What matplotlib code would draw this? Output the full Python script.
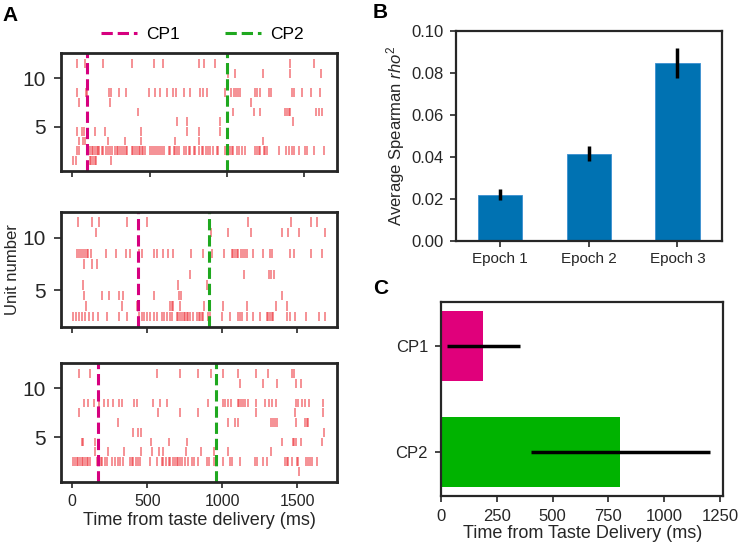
import matplotlib
matplotlib.use("Agg")
import matplotlib.pyplot as plt

plt.rcParams['font.family'] = ['Liberation Sans', 'DejaVu Sans']
plt.rcParams['mathtext.fontset'] = 'custom'
plt.rcParams['mathtext.rm'] = 'Liberation Sans'
plt.rcParams['mathtext.it'] = 'Liberation Sans:italic'

INK = '#262626'
MAGENTA = '#d6007f'
GREEN = '#1fa81f'

# spike times (ms) per unit 1..11 for the three example trials
trial1_spikes = [
    [6, 26, 112, 123, 134, 145, 156, 250],
    [28, 43, 115, 126, 136, 147, 158, 165, 175, 190, 201, 219, 234, 245, 255, 277, 288, 299,
     310, 323, 335, 346, 357, 385, 396, 407, 418, 429, 439, 450, 461, 472, 500, 515, 530, 543,
     558, 569, 580, 591, 623, 634, 656, 667, 677, 688, 721, 738, 753, 764, 786, 797, 820, 838,
     848, 864, 877, 892, 913, 935, 946, 989, 1000, 1022, 1032, 1043, 1065, 1076, 1097, 1119,
     1184, 1195, 1206, 1216, 1238, 1249, 1260, 1336, 1383, 1400, 1422, 1433, 1465, 1509, 1520,
     1563, 1628],
    [46, 70, 80, 232, 343, 446, 668, 822, 1237],
    [28, 66, 77, 146, 210, 442, 743, 819, 958],
    [678, 743, 957, 1430],
    [424, 1040, 1175, 1212, 1380, 1390, 1400, 1412, 1578, 1596, 1617],
    [45, 247, 1155],
    [33, 89, 98, 241, 252, 304, 349, 494, 537, 570, 613, 650, 671, 721, 760, 825, 848, 875,
     990, 1030, 1045, 1060, 1075, 1088, 1185, 1196, 1217, 1275, 1285, 1422, 1435, 1485, 1545,
     1601],
    [],
    [1005, 1052, 1237, 1410, 1607],
    [28, 83, 202, 386, 531, 585, 823, 851, 924, 1412, 1565],
]

trial2_spikes = [
    [],
    [7, 22, 47, 63, 85, 114, 141, 170, 230, 314, 363, 446, 464, 479, 497, 519, 546, 564, 597,
     613, 631, 653, 664, 697, 708, 719, 731, 742, 753, 764, 775, 786, 808, 831, 842, 851, 862,
     873, 902, 917, 1000, 1051, 1107, 1118, 1130, 1163, 1207, 1252, 1296, 1307, 1319, 1330,
     1341, 1430, 1452, 1486, 1559, 1642, 1682],
    [93, 335, 430, 653, 664, 675, 719, 880, 1002, 1167, 1360, 1430],
    [80, 197, 242, 310, 337, 548, 710, 722, 1398],
    [69, 708, 897],
    [782, 1142, 1309, 1326, 1342],
    [80, 135, 167],
    [29, 45, 58, 74, 85, 96, 107, 125, 225, 292, 359, 385, 446, 464, 542, 564, 604, 637, 675,
     795, 873, 929, 1014, 1063, 1074, 1085, 1096, 1108, 1125, 1141, 1152, 1163, 1207, 1274,
     1319, 1330, 1453, 1476, 1594, 1665],
    [],
    [160, 924, 1036, 1191, 1396, 1437, 1514, 1682],
    [40, 135, 176, 363, 497, 1169, 1460, 1589, 1634],
]

trial3_spikes = [
    [1510],
    [7, 18, 29, 40, 51, 63, 74, 85, 96, 107, 118, 163, 174, 181, 190, 201, 218, 230, 263, 285,
     308, 319, 341, 386, 397, 408, 426, 437, 452, 519, 564, 597, 608, 626, 642, 653, 671, 686,
     697, 708, 719, 731, 753, 775, 797, 815, 840, 896, 912, 947, 1007, 1051, 1063, 1118, 1219,
     1230, 1274, 1296, 1419, 1430, 1441, 1463, 1497, 1508, 1557, 1570, 1586, 1597, 1630],
    [155, 236, 347, 457, 530, 579, 608, 757, 857, 945, 1039, 1325],
    [63, 74, 150, 528, 648, 762, 1396, 1472, 1481, 1492, 1526, 1665],
    [408, 441, 461, 1680],
    [308, 1036, 1086, 1108, 1325, 1336, 1350, 1362, 1495, 1550, 1563, 1575],
    [45, 572, 719, 838, 1223, 1482, 1674],
    [80, 107, 147, 181, 214, 241, 274, 314, 334, 412, 430, 541, 586, 630, 907, 1002, 1018,
     1036, 1056, 1103, 1114, 1125, 1136, 1152, 1174, 1223, 1285, 1314, 1334, 1356, 1492, 1508,
     1530, 1552, 1581, 1675],
    [],
    [1119, 1275, 1368, 1489, 1527],
    [46, 118, 568, 720, 838, 924, 1005, 1102, 1224, 1303, 1465, 1481],
]

cp1_times = [97, 441, 174]
cp2_times = [1000, 914, 956]

epochs = ['Epoch 1', 'Epoch 2', 'Epoch 3']
rho2_mean = [0.022, 0.0415, 0.0848]
rho2_err = [0.0025, 0.0036, 0.0071]

cp_labels = ['CP1', 'CP2']
cp_mean = [190, 804]
cp_err = [163, 401]


def style_box(ax, lw):
    for sp in ax.spines.values():
        sp.set_linewidth(lw)
        sp.set_color(INK)


fig = plt.figure(figsize=(7.38, 5.43), dpi=100)

raster_pos = [[0.0822, 0.6856, 0.3748, 0.2162],
              [0.0822, 0.3983, 0.3748, 0.2118],
              [0.0822, 0.1129, 0.3748, 0.2180]]
raster_xlim = [(-75, 1715), (-77, 1767), (-77, 1767)]
raster_ylim = [(0.45, 12.55), (1.5, 12.5), (0.45, 12.55)]
trials = [trial1_spikes, trial2_spikes, trial3_spikes]

for i, spikes in enumerate(trials):
    ax = fig.add_axes(raster_pos[i])
    for u, times in enumerate(spikes):
        if times:
            ax.vlines(times, u + 1.05, u + 1.95, color='#ec2830', alpha=0.65, lw=1.1)
    l1 = ax.axvline(cp1_times[i], color=MAGENTA, ls='--', lw=2.2, label='CP1')
    l2 = ax.axvline(cp2_times[i], color=GREEN, ls='--', lw=2.2, label='CP2')
    ax.set_xlim(*raster_xlim[i])
    ax.set_ylim(*raster_ylim[i])
    ax.set_yticks([5, 10])
    ax.set_xticks([0, 500, 1000, 1500])
    style_box(ax, 2.0)
    ax.tick_params(axis='y', labelsize=15, colors=INK, length=4.8, width=1.2, pad=6)
    ax.tick_params(axis='x', labelsize=11.5, colors=INK, length=4.2, width=1.2, pad=5)
    if i < 2:
        ax.set_xticklabels([])
    if i == 1:
        ax.set_ylabel('Unit number', fontsize=12, color=INK, labelpad=2)
    if i == 2:
        ax.set_xlabel('Time from taste delivery (ms)', fontsize=13, color=INK, labelpad=2)

fig.legend([l1, l2], ['CP1', 'CP2'], loc='center', bbox_to_anchor=(0.274, 0.937),
           ncol=2, frameon=False, fontsize=12.5, handlelength=2.1, columnspacing=2.6,
           handletextpad=0.5)

# panel B
axb = fig.add_axes([0.6179, 0.5567, 0.3600, 0.3867])
axb.bar(range(len(epochs)), rho2_mean, width=0.5, color='#0072b2', edgecolor='#3a8fd0', lw=0.6)
axb.errorbar(range(len(epochs)), rho2_mean, yerr=rho2_err, fmt='none', ecolor='black',
             elinewidth=2.5, capsize=0)
axb.set_xlim(-0.5, 2.5)
axb.set_ylim(0, 0.1)
axb.set_yticks([0, 0.02, 0.04, 0.06, 0.08, 0.10])
axb.set_yticklabels(['0.00', '0.02', '0.04', '0.06', '0.08', '0.10'])
axb.set_xticks(range(len(epochs)))
axb.set_xticklabels(epochs)
axb.set_ylabel(r'Average Spearman $rho^2$', fontsize=12, color=INK, labelpad=3)
style_box(axb, 1.6)
axb.tick_params(axis='y', labelsize=12, colors=INK, length=4.3, width=1.2, pad=4.5)
axb.tick_params(axis='x', labelsize=11, colors=INK, length=4.3, width=1.2, pad=4)

# panel C
axc = fig.add_axes([0.5976, 0.0866, 0.3825, 0.3578])
axc.barh(range(len(cp_labels)), cp_mean, height=0.66, color=['#e0007b', '#00b300'])
axc.errorbar(cp_mean, range(len(cp_labels)), xerr=cp_err, fmt='none', ecolor='black',
             elinewidth=2.5, capsize=0)
axc.set_xlim(0, 1265)
axc.set_ylim(1.415, -0.415)
axc.set_yticks(range(len(cp_labels)))
axc.set_yticklabels(cp_labels)
axc.set_xticks([0, 250, 500, 750, 1000, 1250])
axc.set_xlabel('Time from Taste Delivery (ms)', fontsize=13, color=INK, labelpad=1)
style_box(axc, 1.6)
axc.tick_params(axis='both', labelsize=12, colors=INK, length=4.3, width=1.2, pad=5)

fig.text(0.004, 0.972, 'A', fontsize=15, fontweight='bold', va='center')
fig.text(0.505, 0.977, 'B', fontsize=15, fontweight='bold', va='center')
fig.text(0.505, 0.468, 'C', fontsize=15, fontweight='bold', va='center')

fig.savefig('out.png', dpi=100)
